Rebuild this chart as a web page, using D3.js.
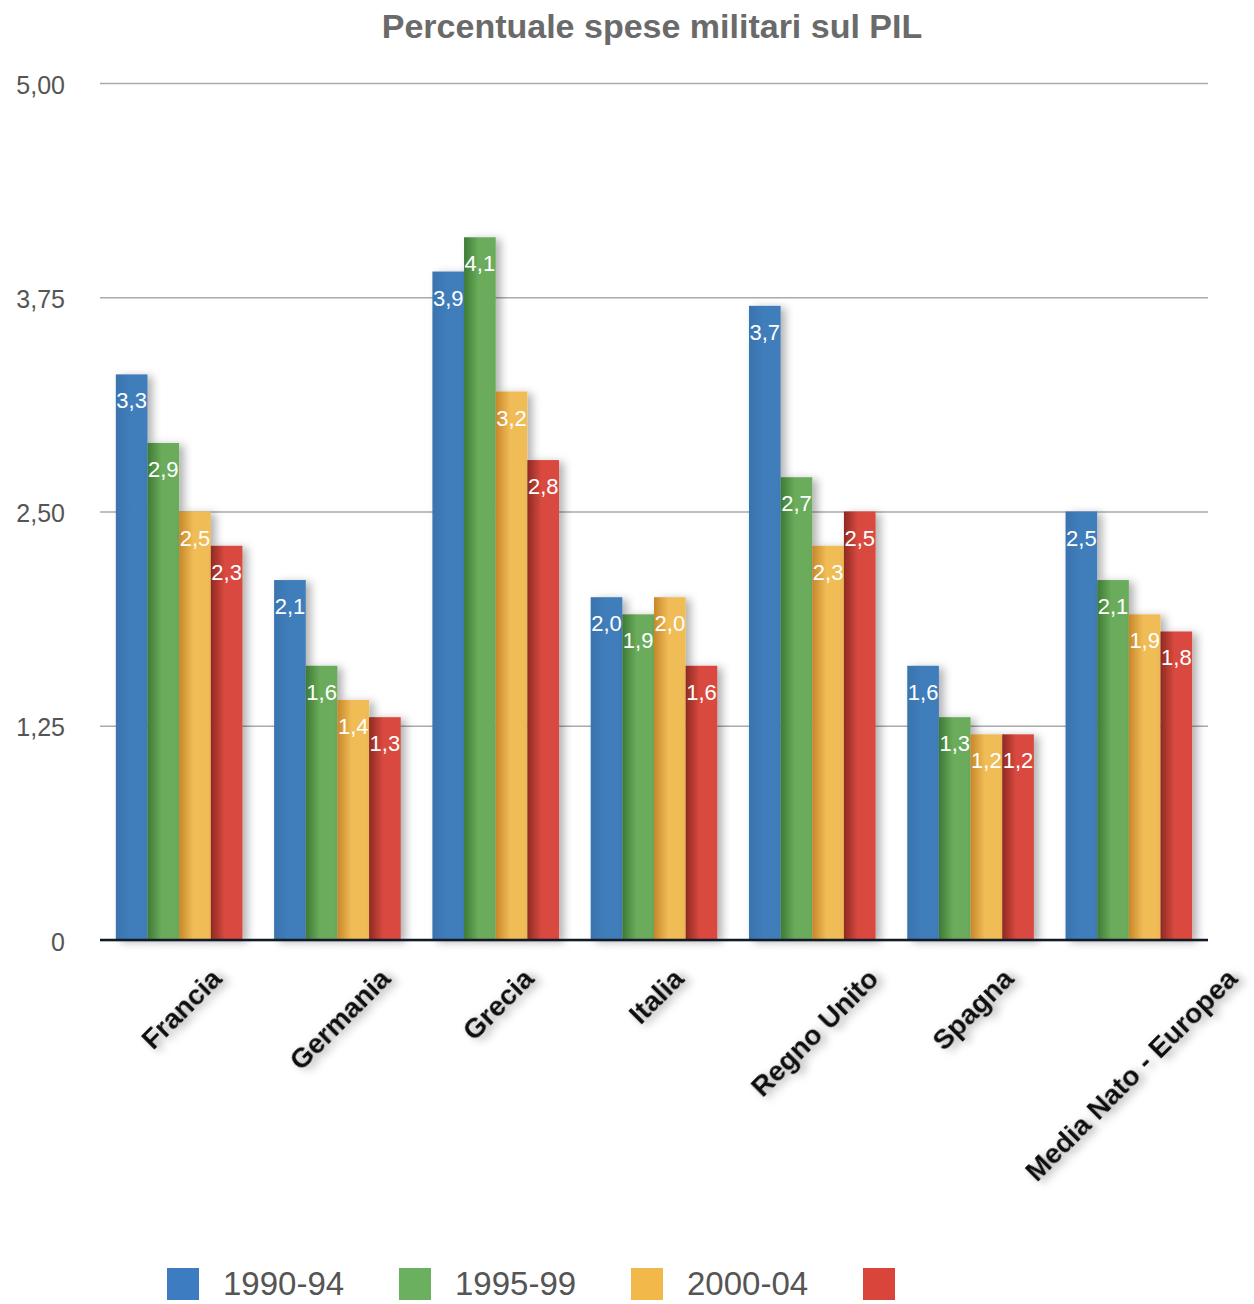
<!DOCTYPE html>
<html><head><meta charset="utf-8">
<script src="https://cdn.jsdelivr.net/npm/d3@7"></script>
<style>body{margin:0;background:#fff;}svg{display:block;}</style>
</head><body>
<script>
const categories = ["Francia","Germania","Grecia","Italia","Regno Unito","Spagna","Media Nato - Europea"];
const seriesNames = ["1990-94","1995-99","2000-04",""];
const s1990 = [3.3,2.1,3.9,2.0,3.7,1.6,2.5];
const s1995 = [2.9,1.6,4.1,1.9,2.7,1.3,2.1];
const s2000 = [2.5,1.4,3.2,2.0,2.3,1.2,1.9];
const s2005 = [2.3,1.3,2.8,1.6,2.5,1.2,1.8];
const yTicks = [0,1.25,2.5,3.75,5];
const yTickLabels = ["0","1,25","2,50","3,75","5,00"];
const chartTitle = "Percentuale spese militari sul PIL";

const W=1254,H=1304;
const series=[s1990,s1995,s2000,s2005];
const colorsLeft=["#3a74ae","#3e7a36","#c8872a","#8e2a22"];
const colorsRight=["#3f7dbb","#6aac5b","#f0bc57","#da4a40"];
const legendColors=["#3d7cc0","#6bb05f","#f2b94a","#d9443b"];
const FONT="Liberation Sans, Arial, sans-serif";

const svg=d3.select("body").append("svg").attr("width",W).attr("height",H);
const defs=svg.append("defs");
series.forEach((s,i)=>{
  const g=defs.append("linearGradient").attr("id","g"+i).attr("x1","0").attr("x2","1").attr("y1","0").attr("y2","0");
  g.append("stop").attr("offset","0%").attr("stop-color",colorsLeft[i]);
  g.append("stop").attr("offset","45%").attr("stop-color",colorsRight[i]);
  g.append("stop").attr("offset","100%").attr("stop-color",colorsRight[i]);
});
const f=defs.append("filter").attr("id","sh").attr("x","-20%").attr("y","-20%").attr("width","160%").attr("height","140%");
f.append("feDropShadow").attr("dx",5).attr("dy",2).attr("stdDeviation",4).attr("flood-color","#000").attr("flood-opacity",0.3);
const ft=defs.append("filter").attr("id","tsh").attr("x","-20%").attr("y","-50%").attr("width","140%").attr("height","200%");
ft.append("feDropShadow").attr("dx",3).attr("dy",5).attr("stdDeviation",4).attr("flood-color","#000").attr("flood-opacity",0.35);

const mLeft=100,mRight=1208,mTop=83,mBottom=940;
const x=d3.scaleBand().domain(categories).range([mLeft,mRight]).paddingInner(0.2).paddingOuter(0.1);
const xs=d3.scaleBand().domain(d3.range(4)).range([0,x.bandwidth()]);
const y=d3.scaleLinear().domain([0,5]).range([mBottom,mTop]);

svg.append("text").attr("x",652).attr("y",38).attr("text-anchor","middle")
  .attr("font-family",FONT).attr("font-weight","bold")
  .attr("font-size",34).attr("fill","#6a6a6a").text(chartTitle);

// grid
const yAxis=d3.axisLeft(y).tickValues(yTicks).tickSize(-(mRight-mLeft)).tickFormat((d,i)=>yTickLabels[i]);
const ga=svg.append("g").attr("transform",`translate(${mLeft},0)`).call(yAxis);
ga.select(".domain").remove();
ga.selectAll(".tick line").attr("stroke","#aaaaaa").attr("stroke-width",1.5);
ga.selectAll(".tick text").attr("x",-35).attr("dy","0.4em").attr("font-family",FONT)
  .attr("font-size",25).attr("fill","#555");

// bars
const groups=svg.append("g").selectAll("g").data(categories).join("g")
  .attr("transform",d=>`translate(${x(d)},0)`);
groups.each(function(cat,ci){
  const g=d3.select(this);
  series.forEach((s,si)=>{
    g.append("rect").attr("x",xs(si)).attr("y",y(s[ci])).attr("width",xs.bandwidth())
      .attr("height",y(0)-y(s[ci])).attr("fill",`url(#g${si})`).attr("filter","url(#sh)");
  });
});
groups.each(function(cat,ci){
  const g=d3.select(this);
  series.forEach((s,si)=>{
    g.append("text").attr("x",xs(si)+xs.bandwidth()/2).attr("y",y(s[ci])+34)
      .attr("text-anchor","middle").attr("font-family",FONT)
      .attr("font-size",22).attr("fill","#fff").text(d3.format(".1f")(s[ci]).replace(".",","));
  });
});

// baseline
svg.append("line").attr("x1",mLeft).attr("x2",mRight).attr("y1",y(0)).attr("y2",y(0))
  .attr("stroke","#111a2a").attr("stroke-width",2.5);

// x labels: centered on band, rotated -45, top aligned
const xAxis=d3.axisBottom(x).tickSize(0).tickPadding(0);
const gx=svg.append("g").attr("transform",`translate(0,${mBottom})`).call(xAxis);
gx.select(".domain").remove();
const fs=28;
gx.selectAll(".tick text").attr("text-anchor","middle").attr("font-family",FONT)
  .attr("font-weight","bold").attr("font-size",fs).attr("fill","#111").attr("y",0).attr("dy","0.35em")
  .attr("filter","url(#tsh)")
  .each(function(){
    const L=this.getComputedTextLength();
    const cy=25+(L+fs*0.85)*Math.SQRT1_2/2;
    d3.select(this).attr("transform",`translate(2,${cy}) rotate(-45)`);
  });

// legend
const lg=svg.append("g").selectAll("g").data(seriesNames).join("g")
  .attr("transform",(d,i)=>`translate(${167+i*232},1268)`);
lg.append("rect").attr("width",32).attr("height",32).attr("fill",(d,i)=>legendColors[i]);
lg.append("text").attr("x",56).attr("y",27).attr("font-family",FONT)
  .attr("font-size",33).attr("fill","#555").text(d=>d);
</script>
</body></html>
